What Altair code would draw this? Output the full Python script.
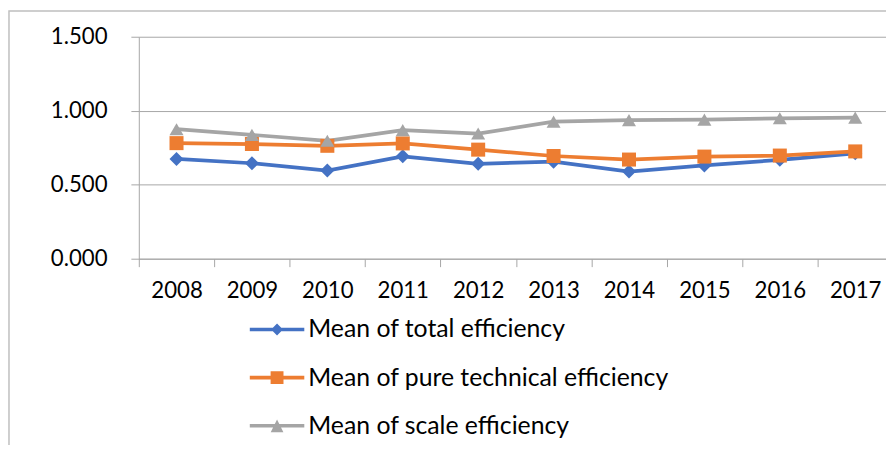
import altair as alt
import pandas as pd

years = ["2008", "2009", "2010", "2011", "2012", "2013", "2014", "2015", "2016", "2017"]
total_eff = [0.674, 0.645, 0.596, 0.692, 0.641, 0.656, 0.589, 0.630, 0.668, 0.712]
pure_eff = [0.781, 0.775, 0.763, 0.779, 0.737, 0.694, 0.670, 0.690, 0.697, 0.725]
scale_eff = [0.875, 0.837, 0.797, 0.869, 0.846, 0.926, 0.936, 0.940, 0.949, 0.953]
series_names = ["Mean of total efficiency", "Mean of pure technical efficiency", "Mean of scale efficiency"]
colors = ["#4472C4", "#ED7D31", "#A5A5A5"]
y_ticks = [0, 0.5, 1.0, 1.5]

rows = []
for name, vals in zip(series_names, [total_eff, pure_eff, scale_eff]):
    for yr, v in zip(years, vals):
        rows.append({"year": yr, "value": v, "series": name})
df = pd.DataFrame(rows)

FONT = "Lato"
GRID = "#a6a6a6"

line_path = "M-2.75,-0.18L2.75,-0.18L2.75,0.18L-2.75,0.18Z"
legend_paths = [
    line_path + "M0,-0.6L0.6,0L0,0.6L-0.6,0Z",
    line_path + "M-0.65,-0.65L0.65,-0.65L0.65,0.65L-0.65,0.65Z",
    line_path + "M0,-0.62L0.64,0.65L-0.64,0.65Z",
]

x_enc = alt.X(
    "year:N",
    sort=years,
    scale=alt.Scale(type="band", range=[0, 761], paddingInner=0, paddingOuter=0),
    axis=alt.Axis(
        title=None, labelAngle=0, tickBand="extent", tickSize=8, tickColor=GRID,
        domainColor=GRID, labelFont=FONT, labelFontSize=22.4, labelColor="#000000",
        labelPadding=13, grid=False,
    ),
)
y_enc = alt.Y(
    "value:Q",
    scale=alt.Scale(domain=[0, 1.5], nice=False, zero=True),
    axis=alt.Axis(
        title=None, values=y_ticks, format=".3f", tickSize=8, tickColor=GRID,
        domainColor=GRID, gridColor=GRID, grid=True, labelFont=FONT,
        labelFontSize=22.4, labelColor="#000000", labelPadding=24,
    ),
)

base = alt.Chart(df)

lines = base.mark_line(strokeWidth=3.75).encode(
    x=x_enc, y=y_enc,
    color=alt.Color("series:N", scale=alt.Scale(domain=series_names, range=colors), legend=None),
    detail="series:N",
)

points = base.mark_point(filled=True, size=200, opacity=1).encode(
    x=x_enc, y=y_enc,
    color=alt.Color("series:N", scale=alt.Scale(domain=series_names, range=colors), legend=None),
    shape=alt.Shape("series:N", scale=alt.Scale(domain=series_names, range=["diamond", "square", "triangle-up"]), legend=None),
)

leg = alt.Legend(
    orient="none", legendX=127, legendY=283, title=None, direction="vertical",
    symbolSize=400, symbolStrokeWidth=0, symbolOpacity=1,
    labelFont=FONT, labelFontSize=25, labelColor="#000000", labelOffset=19,
    labelLimit=0, rowPadding=22.5, padding=0,
)

legend_layer = base.transform_filter("false").mark_point(filled=True).encode(
    color=alt.Color("series:N", scale=alt.Scale(domain=series_names, range=colors), legend=leg),
    shape=alt.Shape("series:N", scale=alt.Scale(domain=series_names, range=legend_paths), legend=leg),
)

frame = alt.Chart(alt.Data(values=[{}])).mark_rect(
    fill="transparent", stroke="#bfbfbf", strokeWidth=1.5
).encode(
    x=alt.value(-131), x2=alt.value(800), y=alt.value(-26), y2=alt.value(500)
)

chart = alt.layer(frame, lines, points, legend_layer).resolve_scale(
    color="independent", shape="independent"
).properties(
    width=754, height=224,
    autosize=alt.AutoSizeParams(type="none"),
    padding={"left": 132, "top": 27, "right": 0, "bottom": 186},
).configure_view(stroke=None)

chart.save("out.html", embed_options={"renderer": "svg", "actions": False})
